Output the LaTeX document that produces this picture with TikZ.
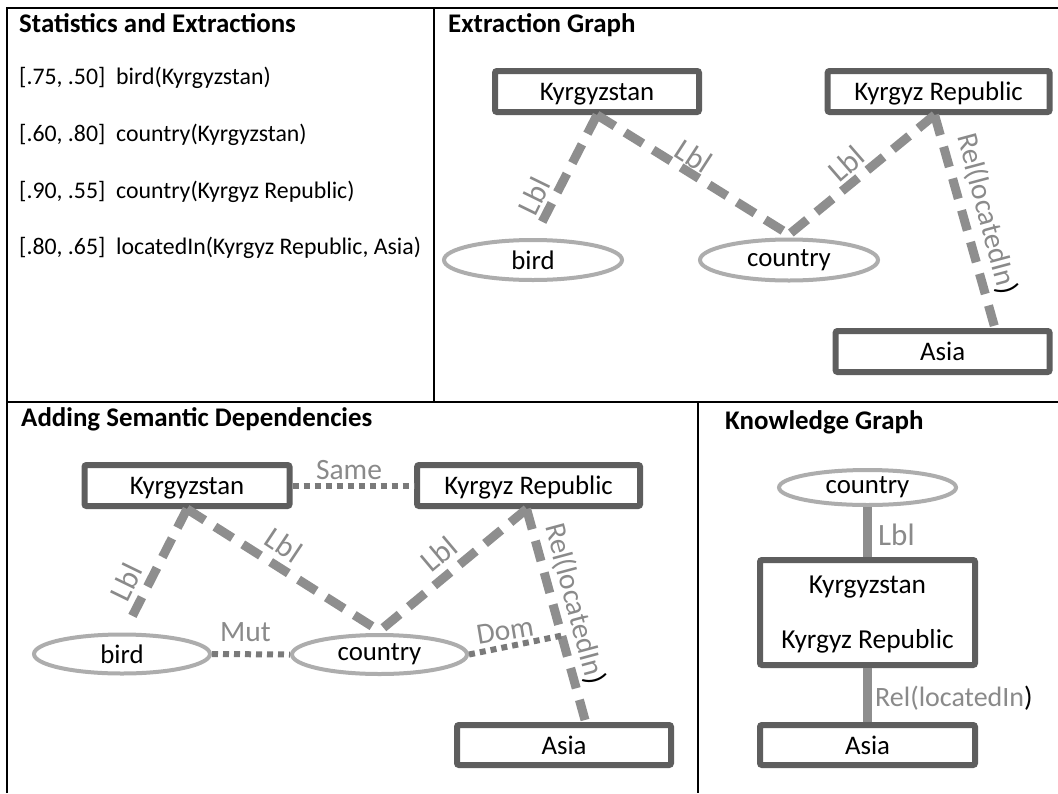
\documentclass[tikz,border=0pt]{standalone}
\usepackage{fontspec}
\setmainfont{Carlito}
\usetikzlibrary{shapes.geometric,calc}
\definecolor{boxgray}{HTML}{5E5E5E}
\definecolor{ellgray}{HTML}{ADADAD}
\definecolor{edgegray}{HTML}{8E8E8E}
\definecolor{dotgray}{HTML}{7A7A7A}
\definecolor{lblgray}{HTML}{8A8A8A}
\begin{document}
\begin{tikzpicture}[x=1pt,y=-1pt,
  frame/.style={line width=2.5pt,black},
  ttl/.style={anchor=west,inner sep=0,font=\fontsize{26.9}{30}\selectfont\bfseries},
  stat/.style={anchor=west,inner sep=0,font=\fontsize{23.8}{28}\selectfont},
  ent/.style={draw=boxgray,line width=6pt,fill=white,rounded corners=2pt,inner sep=0,text depth=0pt,minimum height=41pt,font=\fontsize{26.8}{30}\selectfont},
  cls/.style={ellipse,draw=ellgray,line width=4pt,fill=white,inner sep=0,font=\fontsize{26.8}{30}\selectfont},
  lbledge/.style={draw=edgegray,line width=9pt,dash pattern=on 21pt off 12pt},
  depedge/.style={draw=dotgray,line width=6pt,dash pattern=on 6pt off 5pt},
  kgedge/.style={draw=edgegray,line width=9pt},
  elbl/.style={text=lblgray,inner sep=0,font=\fontsize{29.5}{30}\selectfont},
  lbl/.style={elbl,font=\fontsize{31}{30}\selectfont},
]
\useasboundingbox (0,0) rectangle (1058,793);
\fill[white] (0,0) rectangle (1058,793);
% frame
\draw[frame] (7,793) -- (7,8) -- (1058,8);
\draw[frame] (7,402) -- (1058,402);
\draw[frame] (434,8) -- (434,402);
\draw[frame] (698,402) -- (698,793);

% ---------- Statistics and Extractions
\node[ttl] (t1) at (19,23) {Statistics and Extractions};
\node[stat] (s1) at (19,78) {[.75, .50]\ \ bird(Kyrgyzstan)};
\node[stat] (s2) at (19,135) {[.60, .80]\ \ country(Kyrgyzstan)};
\node[stat] (s3) at (19,192) {[.90, .55]\ \ country(Kyrgyz Republic)};
\node[stat] (s4) at (19,248) {[.80, .65]\ \ locatedIn(Kyrgyz Republic, Asia)};

% ---------- Extraction Graph
\node[ttl] (t2) at (448,25) {Extraction Graph};
\node[ent,minimum width=204pt] (k1) at (597,91.5) {Kyrgyzstan};
\node[ent,minimum width=222pt] (kr1) at (938.6,91.5) {Kyrgyz Republic};
\node[cls,minimum width=178pt,minimum height=40pt] (b1) at (533,260) {bird};
\node[cls,minimum width=178pt,minimum height=41pt] (c1) at (789,260) {country};
\node[ent,minimum width=214pt] (a1) at (942.6,351.5) {Asia};
\draw[lbledge] (k1.south) -- ([shift={(5,-8)}]b1.north);
\draw[lbledge] (k1.south) -- ([shift={(0,-3)}]c1.north);
\draw[lbledge] ([xshift=-4pt]kr1.south) -- ([shift={(0,-3)}]c1.north);
\draw[lbledge] ([xshift=-4pt]kr1.south) -- ([shift={(52,-1)}]a1.north);
\node[lbl,rotate=64] (l1a) at (534,196) {Lbl};
\node[lbl,rotate=-33] (l1b) at (694,156) {Lbl};
\node[lbl,rotate=41] (l1c) at (846,164) {Lbl};
\node[elbl,rotate=-75] (l1d) at (987,214) {Rel(locatedIn\textcolor{black}{)}};

% ---------- Adding Semantic Dependencies
\node[ttl] (t3) at (21,419) {Adding Semantic Dependencies};
\node[ent,minimum width=205pt] (k2) at (187,485.5) {Kyrgyzstan};
\node[ent,minimum width=223pt] (kr2) at (528.6,485.5) {Kyrgyz Republic};
\node[cls,minimum width=176pt,minimum height=39pt] (b2) at (122,654) {bird};
\node[cls,minimum width=175pt,minimum height=39pt] (c2) at (379.5,654.5) {country};
\node[ent,minimum width=214pt,minimum height=40pt] (a2) at (564,745) {Asia};
\draw[lbledge] (k2.south) -- ([shift={(5,-6)}]b2.north);
\draw[lbledge] (k2.south) -- ([shift={(0,-2)}]c2.north);
\draw[lbledge] ([xshift=-2pt]kr2.south) -- ([shift={(0,-2)}]c2.north);
\draw[lbledge] ([xshift=-2pt]kr2.south) -- coordinate[pos=0.6] (dompt) ([shift={(21,-2)}]a2.north);
\draw[depedge] (k2.east) -- (kr2.west);
\draw[depedge] (b2.east) -- (c2.west);
\draw[depedge] (c2.east) -- (dompt);
\node[lbl,rotate=64] (l2a) at (126,582) {Lbl};
\node[lbl,rotate=-33.7] (l2b) at (284,545) {Lbl};
\node[lbl,rotate=40] (l2c) at (439,554) {Lbl};
\node[elbl,rotate=-75] (l2d) at (575,604) {Rel(locatedIn\textcolor{black}{)}};
\node[elbl] (same) at (349,470) {Same};
\node[elbl] (mut) at (245.5,632) {Mut};
\node[elbl,rotate=9.5] (dom) at (505,631) {Dom};

% ---------- Knowledge Graph
\node[ttl] (t4) at (725,422) {Knowledge Graph};
\node[cls,minimum width=177pt,minimum height=35pt] (c3) at (867.5,487.5) {country};
\node[ent,minimum width=215pt,minimum height=105pt,align=center,font=\fontsize{27.4}{55}\selectfont] (kg) at (867.5,612.5) {Kyrgyzstan\\Kyrgyz Republic};
\node[ent,minimum width=215pt,minimum height=40pt] (a3) at (867.5,745) {Asia};
\draw[kgedge] (c3.south) -- (kg.north);
\draw[kgedge] (kg.south) -- (a3.north);
\node[lbl,anchor=west] (l3a) at (878,535) {Lbl};
\node[elbl,anchor=west,font=\fontsize{28}{30}\selectfont] (l3b) at (875,698) {Rel(locatedIn\textcolor{black}{)}};
\end{tikzpicture}
\end{document}
